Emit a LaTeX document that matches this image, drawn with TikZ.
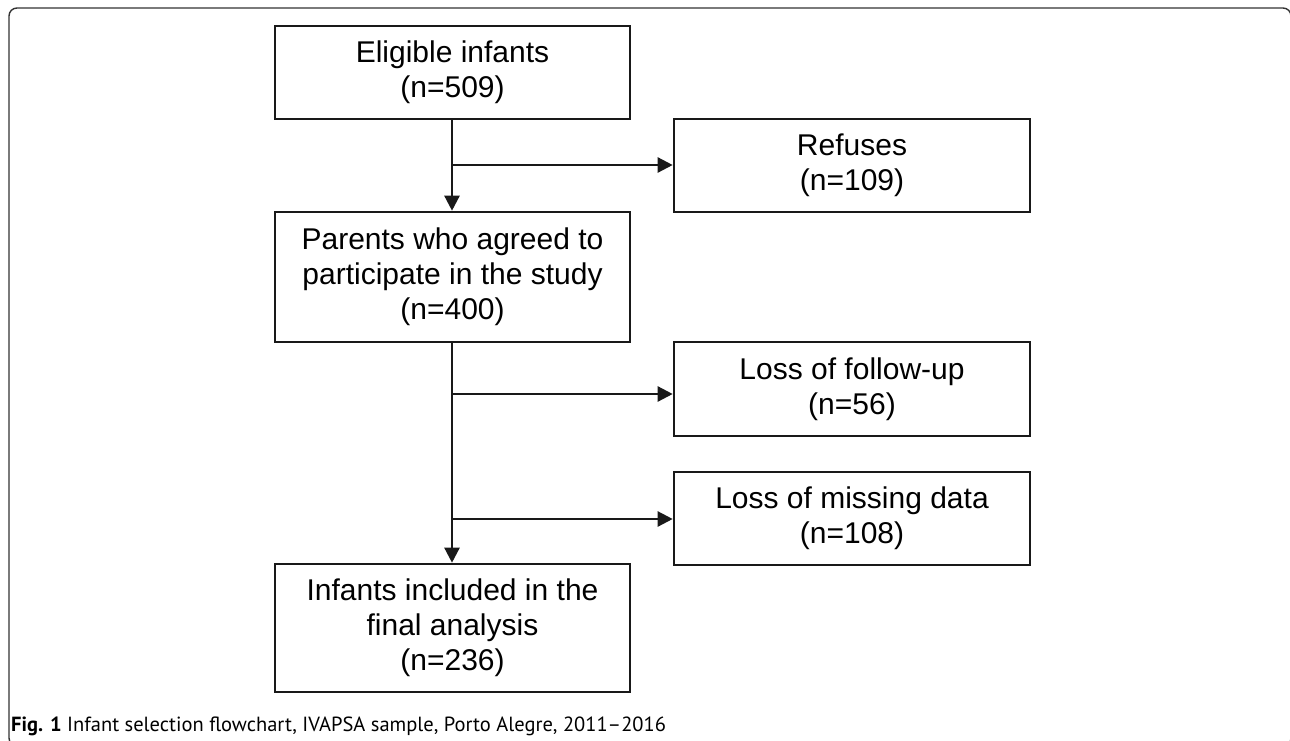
\documentclass[tikz,border=0pt]{standalone}
\usepackage{fontspec}
\setmainfont{Liberation Sans}
\newfontfamily\capfont{PT Sans}
\usetikzlibrary{arrows.meta}
\begin{document}
\begin{tikzpicture}[x=1pt,y=-1pt,
  box/.style={draw=black!90, line width=2.6pt, align=center, inner sep=0pt,
    font=\fontsize{30}{35}\selectfont},
  conn/.style={draw=black!90, line width=2.4pt},
  arr/.style={conn, -{Triangle[length=15pt,width=15pt]}}]
\useasboundingbox (0,0) rectangle (1290,740);
% outer frame
\draw[black!80, line width=1.4pt, rounded corners=8pt] (9,8) rectangle (1291,746);
% boxes
\node[box, minimum width=355pt, minimum height=93pt] (elig) at (452.5,72.5) {Eligible infants\\(n=509)};
\node[box, minimum width=356pt, minimum height=93pt] (ref) at (852,165.5) {Refuses\\(n=109)};
\node[box, minimum width=355pt, minimum height=130pt] (par) at (452.5,277) {Parents who agreed to\\participate in the study\\(n=400)};
\node[box, minimum width=356pt, minimum height=94pt] (fu) at (852,389) {Loss of follow-up\\(n=56)};
\node[box, minimum width=356pt, minimum height=93pt] (md) at (852,518.5) {Loss of missing data\\(n=108)};
\node[box, minimum width=355pt, minimum height=128pt] (fin) at (452.5,628) {Infants included in the\\final analysis\\(n=236)};
% trunk and branch points
\coordinate (t) at (452,0);
\coordinate (b1) at (452,165);
\coordinate (b2) at (452,394);
\coordinate (b3) at (452,519);
\draw[arr] (elig.south -| t) -- (par.north -| t);
\draw[arr] (par.south -| t) -- (fin.north -| t);
\draw[arr] (b1) -- (b1 -| ref.west);
\draw[arr] (b2) -- (b2 -| fu.west);
\draw[arr] (b3) -- (b3 -| md.west);
% caption
\node[anchor=base west, inner sep=0pt, font=\capfont\fontsize{20.5}{24}\selectfont] (cap) at (11,731)
  {\textbf{Fig. 1} Infant selection flowchart, IVAPSA sample, Porto Alegre, 2011–2016};
\end{tikzpicture}
\end{document}
